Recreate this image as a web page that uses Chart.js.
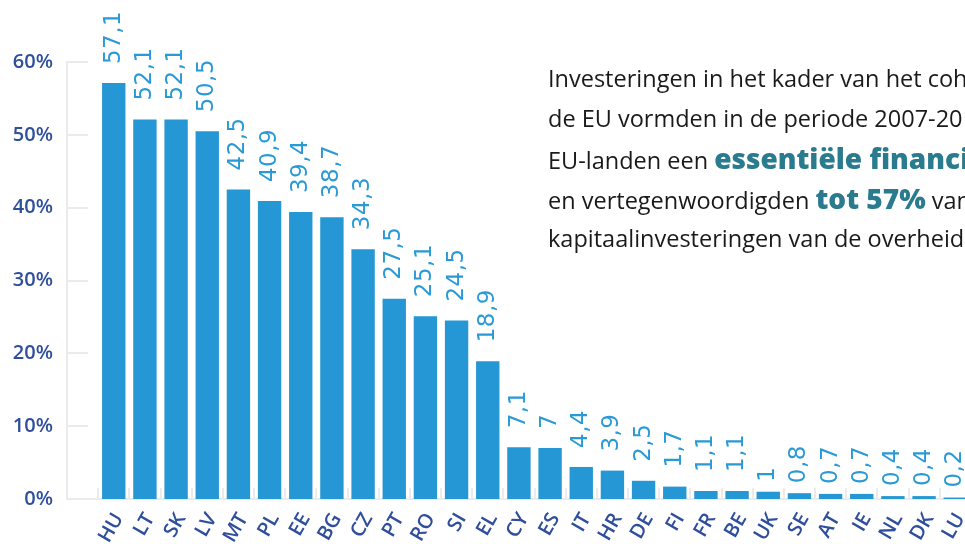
<!DOCTYPE html>
<html>
<head>
<meta charset="utf-8">
<script src="https://cdn.jsdelivr.net/npm/chart.js@4"></script>
<style>
  html, body { margin: 0; padding: 0; background: #fff; width: 965px; height: 544px; overflow: hidden; }
  #chart { position: absolute; left: 0; top: 0; }
  #note { position: absolute; left: 548px; top: 58px; font-family: "Open Sans", sans-serif; font-size: 23.5px; color: #1a1a1a; white-space: nowrap; }
  #note div { height: 40px; line-height: 40px; }
  #note b { color: #2a7b8e; font-size: 28px; font-weight: 800; line-height: 40px; }
</style>
</head>
<body>
<canvas id="chart" width="1010" height="544"></canvas>
<div id="note">
  <div>Investeringen in het kader van het cohesiebeleid van</div>
  <div>de EU vormden in de periode 2007-2013 in veel</div>
  <div>EU-landen een <b>essentiële financieringsbron</b></div>
  <div>en vertegenwoordigden <b>tot 57%</b> van de</div>
  <div>kapitaalinvesteringen van de overheid.</div>
</div>
<script>
// countries, ordered as in the chart
const countries = ['HU', 'LT', 'SK', 'LV', 'MT', 'PL', 'EE', 'BG', 'CZ', 'PT', 'RO', 'SI', 'EL', 'CY',
  'ES', 'IT', 'HR', 'DE', 'FI', 'FR', 'BE', 'UK', 'SE', 'AT', 'IE', 'NL', 'DK', 'LU'];
// share of public capital investment (%)
const shares = [57.1, 52.1, 52.1, 50.5, 42.5, 40.9, 39.4, 38.7, 34.3, 27.5, 25.1, 24.5, 18.9, 7.1,
  7, 4.4, 3.9, 2.5, 1.7, 1.1, 1.1, 1, 0.8, 0.7, 0.7, 0.4, 0.4, 0.2];
const yTicks = [0, 10, 20, 30, 40, 50, 60];

const BAR = '#2597d4';
const AXIS_TEXT = '#2f4f9d';
const LIGHT = '#ebebeb';

// short tick stubs inside the plot + rotated value labels
const extras = {
  id: 'extras',
  beforeDatasetsDraw(chart) {
    const { ctx, chartArea, scales: { x, y } } = chart;
    ctx.save();
    ctx.strokeStyle = LIGHT;
    ctx.lineWidth = 2;
    yTicks.forEach(v => {
      if (v === 0) return;
      const py = Math.round(y.getPixelForValue(v));
      ctx.beginPath();
      ctx.moveTo(chartArea.left, py);
      ctx.lineTo(chartArea.left + 21, py);
      ctx.stroke();
    });
    countries.forEach((c, i) => {
      const px = Math.round(x.getPixelForValue(i - 0.5));
      ctx.beginPath();
      ctx.moveTo(px, chartArea.bottom);
      ctx.lineTo(px, chartArea.bottom - 11);
      ctx.stroke();
    });
    ctx.restore();
  },
  afterDatasetsDraw(chart) {
    const { ctx } = chart;
    const meta = chart.getDatasetMeta(0);
    ctx.save();
    ctx.fillStyle = '#2a9ad6';
    ctx.font = '23px "DejaVu Sans"';
    ctx.letterSpacing = '0.5px';
    ctx.textAlign = 'left';
    ctx.textBaseline = 'alphabetic';
    meta.data.forEach((bar, i) => {
      // labels of the smallest bars sit closer to the bar
      const gap = shares[i] > 1 ? 19 : 10;
      ctx.save();
      ctx.translate(bar.x + 6, bar.y - gap);
      ctx.rotate(-Math.PI / 2);
      ctx.fillText(String(shares[i]).replace('.', ','), 0, 0);
      ctx.restore();
    });
    ctx.restore();
  }
};

new Chart(document.getElementById('chart'), {
  type: 'bar',
  data: {
    datasets: [{
      data: shares.map((v, i) => ({ x: i, y: v })),
      backgroundColor: BAR,
      borderWidth: 0,
      categoryPercentage: 1,
      barPercentage: 0.75
    }]
  },
  options: {
    responsive: false,
    animation: false,
    devicePixelRatio: 1,
    layout: { padding: { top: 62, right: 8, left: 0, bottom: 0 } },
    plugins: { legend: { display: false }, tooltip: { enabled: false } },
    scales: {
      x: {
        type: 'linear',
        min: -1.5,
        max: 28.5,
        offset: false,
        afterFit: s => { s.height = 45; },
        afterBuildTicks: s => { s.ticks = countries.map((c, i) => ({ value: i })); },
        grid: { display: false, drawTicks: false },
        border: { display: true, color: LIGHT, width: 2 },
        ticks: {
          autoSkip: false,
          minRotation: 60,
          maxRotation: 60,
          padding: 10,
          labelOffset: 5,
          color: AXIS_TEXT,
          font: { family: 'Open Sans', size: 20, weight: '600' },
          callback: v => countries[v] || ''
        }
      },
      y: {
        min: 0,
        max: 60,
        afterFit: s => { s.width = 67; },
        grid: { display: false, drawTicks: false },
        border: { display: true, color: LIGHT, width: 2 },
        afterBuildTicks: s => { s.ticks = yTicks.map(v => ({ value: v })); },
        ticks: {
          padding: 14,
          color: AXIS_TEXT,
          font: { family: 'Open Sans', size: 20, weight: '600' },
          callback: v => v + '%'
        }
      }
    }
  },
  plugins: [extras]
});
</script>
</body>
</html>
